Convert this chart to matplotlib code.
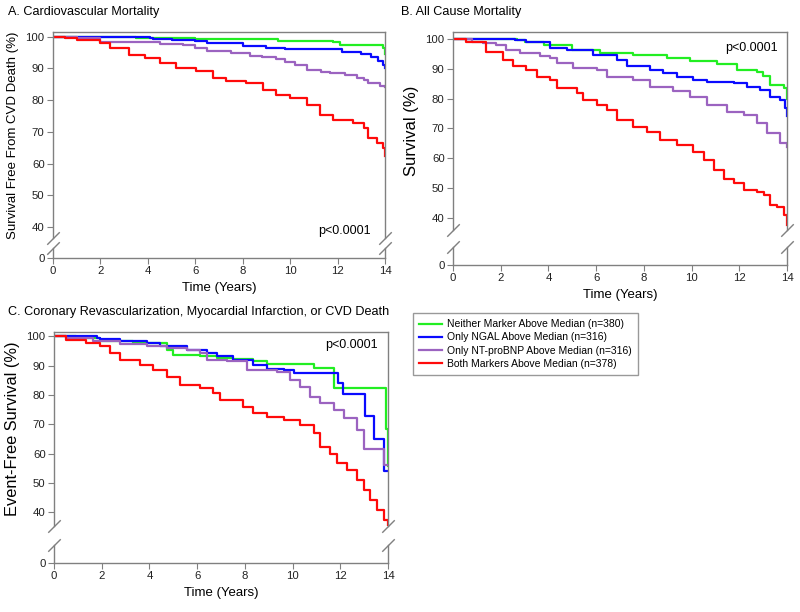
import matplotlib
matplotlib.use("Agg")
import matplotlib.pyplot as plt

plt.rcParams['font.family'] = ['Liberation Sans', 'DejaVu Sans']

# Legend / group labels
labels = ["Neither Marker Above Median (n=380)",
          "Only NGAL Above Median (n=316)",
          "Only NT-proBNP Above Median (n=316)",
          "Both Markers Above Median (n=378)"]
colors = ['#22ee22', '#0a0aff', '#9b63c0', '#ff0a0a']
x_ticks = [0, 2, 4, 6, 8, 10, 12, 14]
y_ticks = [40, 50, 60, 70, 80, 90, 100]

# Panel A: cardiovascular mortality (time in years, survival %)
a_green_t = [0, 3.5, 6.0, 9.5, 11.8, 12.1, 13.9, 14.0]
a_green_s = [100, 99.5, 99.2, 98.8, 98.3, 97.5, 96.5, 94.5]
a_blue_t = [0, 4.1, 4.2, 5.0, 6.0, 6.5, 8.0, 9.0, 9.8, 12.2, 13.0, 13.4, 13.7, 13.9, 14.0]
a_blue_s = [100, 99.7, 99.4, 99.0, 98.7, 98.0, 97.0, 96.5, 96.0, 95.3, 94.5, 93.5, 92.5, 91.2, 90.2]
a_purple_t = [0, 1.0, 2.0, 4.2, 4.5, 5.5, 6.0, 6.5, 7.5, 8.3, 8.8, 9.4, 9.8, 10.2, 10.7,
              11.3, 11.7, 12.3, 12.8, 13.1, 13.3, 13.8, 14.0]
a_purple_s = [100, 99.5, 98.5, 98.3, 97.8, 97.3, 96.5, 95.6, 95.0, 94.0, 93.5, 93.0, 92.0,
              91.0, 89.5, 89.0, 88.5, 87.8, 87.0, 86.2, 85.5, 84.5, 84.3]
a_red_t = [0, 0.5, 1.0, 2.0, 2.4, 3.2, 3.9, 4.5, 5.2, 6.05, 6.75, 7.3, 8.15, 8.85, 9.4,
           10.0, 10.7, 11.25, 11.8, 12.65, 13.1, 13.3, 13.65, 13.93, 14.0]
a_red_s = [100, 99.5, 99.0, 97.9, 96.3, 94.2, 93.2, 91.6, 90.0, 89.3, 86.9, 86.0, 85.3,
           83.2, 81.6, 80.6, 78.5, 75.3, 73.8, 72.9, 71.1, 68.0, 66.6, 64.8, 62.5]

# Panel B: all cause mortality
b_green_t = [0, 2.7, 3.0, 3.8, 5.0, 6.16, 7.56, 8.96, 9.94, 11.06, 11.9, 12.74, 13.0,
             13.3, 13.86, 14.0]
b_green_s = [100, 99.6, 99.0, 98.0, 96.5, 95.3, 94.7, 93.6, 92.5, 91.7, 89.7, 89.1, 87.6,
             84.6, 83.5, 80.0]
b_blue_t = [0, 2.6, 3.08, 4.06, 4.76, 5.88, 6.86, 7.28, 8.26, 8.82, 9.38, 10.08, 10.64,
            11.76, 12.32, 12.88, 13.3, 13.72, 13.93, 14.0]
b_blue_s = [100, 99.6, 98.9, 97.0, 96.2, 94.7, 93.0, 90.8, 89.7, 88.5, 87.4, 86.3, 85.7,
            85.2, 84.0, 82.9, 80.7, 79.6, 76.7, 74.0]
b_purple_t = [0, 0.8, 1.26, 1.82, 2.24, 2.8, 3.64, 4.06, 4.34, 5.04, 6.02, 6.44, 7.56,
              8.26, 9.24, 9.94, 10.64, 11.48, 12.18, 12.74, 13.16, 13.72, 14.0]
b_purple_s = [100, 99.2, 98.7, 98.1, 96.4, 95.3, 94.4, 93.6, 91.9, 90.2, 89.7, 87.4, 86.3,
              84.0, 82.4, 80.7, 77.9, 75.6, 74.5, 71.7, 68.3, 64.9, 63.8]
b_red_t = [0, 0.56, 1.4, 2.1, 2.52, 3.08, 3.5, 4.06, 4.34, 5.18, 5.46, 6.02, 6.44, 6.86,
           7.56, 8.12, 8.68, 9.38, 10.08, 10.5, 10.92, 11.34, 11.76, 12.18, 12.74, 13.02,
           13.3, 13.58, 13.86, 14.0]
b_red_s = [100, 98.9, 95.8, 93.0, 90.8, 89.7, 87.4, 86.3, 83.5, 81.8, 79.6, 77.9, 76.2,
           72.8, 70.6, 68.9, 66.1, 64.4, 62.1, 59.3, 56.0, 53.1, 51.5, 49.2, 48.7, 47.5,
           44.2, 43.6, 40.8, 37.4]

# Panel C: coronary revascularization, MI or CVD death
c_green_t = [0, 0.94, 1.92, 3.32, 4.72, 5.0, 6.12, 6.82, 7.52, 8.36, 8.92, 10.88, 11.72,
             13.9, 14.0]
c_green_s = [100, 99.4, 98.3, 97.7, 95.4, 93.7, 93.2, 92.6, 92.4, 91.5, 90.5, 89.1, 82.5,
             68.5, 56.0]
c_blue_t = [0, 1.8, 1.92, 2.76, 3.88, 4.44, 5.56, 6.4, 6.82, 7.52, 8.36, 8.92, 9.62,
            10.04, 11.9, 12.1, 13.05, 13.4, 13.85, 14.0]
c_blue_s = [100, 99.6, 99.1, 98.3, 97.7, 96.6, 95.4, 94.3, 93.2, 92.0, 90.3, 89.0, 88.4,
            87.5, 84.0, 80.5, 73.0, 65.0, 54.0, 54.0]
c_purple_t = [0, 0.52, 1.64, 2.76, 3.88, 4.72, 5.56, 6.12, 6.4, 7.24, 8.08, 9.34, 9.9,
              10.32, 10.74, 11.16, 11.72, 12.14, 12.7, 12.98, 13.82, 14.0]
c_purple_s = [100, 99.4, 98.3, 97.4, 96.8, 96.0, 95.2, 94.3, 92.0, 91.5, 88.6, 88.0, 85.2,
              82.9, 79.5, 77.2, 74.9, 72.1, 68.1, 61.5, 56.2, 56.2]
c_red_t = [0, 0.52, 1.36, 1.92, 2.34, 2.76, 3.6, 4.16, 4.72, 5.28, 6.12, 6.68, 6.96,
           7.94, 8.36, 8.92, 9.62, 10.32, 10.88, 11.16, 11.58, 11.86, 12.28, 12.7, 12.98,
           13.26, 13.54, 13.82, 14.0]
c_red_s = [100, 98.9, 97.7, 96.6, 94.3, 92.0, 90.3, 88.6, 86.3, 83.5, 82.3, 80.6, 78.4,
           76.1, 73.8, 72.7, 71.5, 69.8, 67.0, 62.4, 60.1, 56.7, 54.4, 51.0, 47.6, 44.2,
           40.8, 37.4, 35.1]

W, H = 800, 612
fig = plt.figure(figsize=(W / 100, H / 100), dpi=100)
GRAY = '#808080'


def rect(x0, x1, ytop, ybot):
    return [x0 / W, 1 - ybot / H, (x1 - x0) / W, (ybot - ytop) / H]


def broken_panel(xl, xr, top, brk_top, brk_bot, bottom, ylim_top, series, ylabel,
                 ylabel_size, ptext_xy):
    ax = fig.add_axes(rect(xl, xr, top, brk_top))
    axb = fig.add_axes(rect(xl, xr, brk_bot, bottom))
    for (t, s), c in zip(series, colors):
        ax.step(t, s, where='post', color=c, lw=1.6)
    ax.set_xlim(0, 14)
    ax.set_ylim(*ylim_top)
    ax.set_yticks(y_ticks)
    ax.set_xticks([])
    ax.spines['bottom'].set_visible(False)
    axb.set_xlim(0, 14)
    axb.set_ylim(0, 1)
    axb.set_yticks([0])
    axb.set_xticks(x_ticks)
    axb.spines['top'].set_visible(False)
    for a in (ax, axb):
        for sp in a.spines.values():
            sp.set_color(GRAY)
            sp.set_linewidth(1)
        a.tick_params(direction='out', length=4, color=GRAY, labelsize=8.2,
                      labelcolor='#222222', pad=2)
        a.patch.set_alpha(0)
    # axis break marks
    kw = dict(marker=[(-1, -1), (1, 1)], markersize=9, linestyle='none',
              color=GRAY, mec=GRAY, mew=1, clip_on=False)
    ax.plot([0, 1], [0, 0], transform=ax.transAxes, **kw)
    axb.plot([0, 1], [1, 1], transform=axb.transAxes, **kw)
    ax.set_ylabel(ylabel, fontsize=ylabel_size, labelpad=5)
    axb.set_xlabel('Time (Years)', fontsize=9.5, labelpad=4)
    ax.text(ptext_xy[0], ptext_xy[1], 'p<0.0001', fontsize=9, ha='center',
            va='center')
    return ax, axb


broken_panel(53, 385, 32, 238, 248, 258, (36.5, 101.5),
             [(a_green_t, a_green_s), (a_blue_t, a_blue_s),
              (a_purple_t, a_purple_s), (a_red_t, a_red_s)],
             'Survival Free From CVD Death (%)', 9.5, (12.3, 38.6))
broken_panel(453, 787, 32, 230, 247, 265, (35.8, 102.4),
             [(b_green_t, b_green_s), (b_blue_t, b_blue_s),
              (b_purple_t, b_purple_s), (b_red_t, b_red_s)],
             'Survival (%)', 12, (12.5, 97.1))
ax_c, _ = broken_panel(54, 388, 332, 526, 545, 563, (35.4, 101.5),
                       [(c_green_t, c_green_s), (c_blue_t, c_blue_s),
                        (c_purple_t, c_purple_s), (c_red_t, c_red_s)],
                       'Event-Free Survival (%)', 11.8, (12.45, 97.2))

fig.text(8 / W, 1 - 12 / H, 'A. Cardiovascular Mortality', fontsize=9.1, va='center')
fig.text(401 / W, 1 - 12 / H, 'B. All Cause Mortality', fontsize=9.1, va='center')
fig.text(8 / W, 1 - 312 / H,
         'C. Coronary Revascularization, Myocardial Infarction, or CVD Death',
         fontsize=9.1, va='center')

handles = ax_c.get_lines()[:4]
leg = fig.legend(handles, labels, loc='upper left',
                 bbox_to_anchor=(413 / W, 1 - 313 / H), fontsize=7.5,
                 frameon=True, fancybox=False, handlelength=2.2,
                 borderpad=0.6, labelspacing=0.3, handletextpad=0.5,
                 borderaxespad=0)
leg.get_frame().set_edgecolor(GRAY)
leg.get_frame().set_linewidth(1)

fig.savefig('out.png', dpi=100)
